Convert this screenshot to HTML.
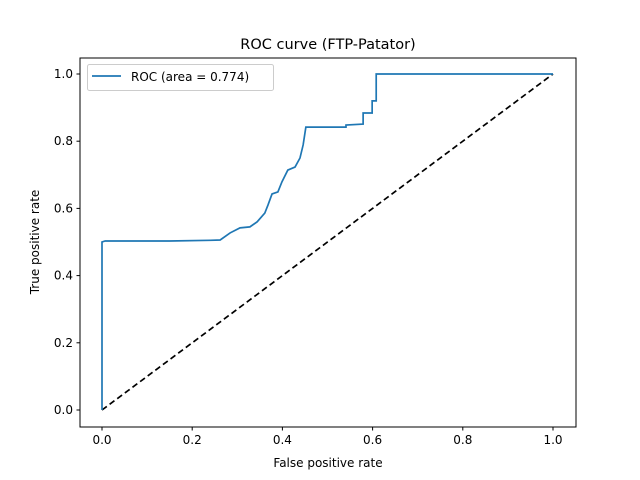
<!DOCTYPE html>
<html><head><meta charset="utf-8"><style>body{margin:0;background:#fff}svg{display:block;font-family:"DejaVu Sans","Liberation Sans",sans-serif}</style></head>
<body>
<svg id="chart" width="640" height="480" viewBox="0 0 640 480"></svg>
<script>
const xs = [0,0,0.007,0.15,0.24,0.262,0.284,0.306,0.328,0.344,0.361,0.368,0.377,0.39,0.399,0.412,0.428,0.439,0.446,0.452,0.541,0.541,0.579,0.579,0.599,0.599,0.608,0.608,1.0];
const ys = [0,0.5,0.503,0.503,0.505,0.506,0.527,0.542,0.545,0.56,0.586,0.61,0.643,0.649,0.679,0.714,0.723,0.75,0.789,0.842,0.842,0.848,0.851,0.884,0.884,0.92,0.92,1.0,1.0];
const diagX = [0,1];
const diagY = [0,1];
const ticks = [0,0.2,0.4,0.6,0.8,1.0];
const tickLabels = ["0.0","0.2","0.4","0.6","0.8","1.0"];
const NS="http://www.w3.org/2000/svg";
const svg=document.getElementById('chart');
const X=v=>102+v*451, Y=v=>410-v*336;
function mk(t,a,p){const e=document.createElementNS(NS,t);for(const k in a)e.setAttribute(k,a[k]);(p||svg).appendChild(e);return e;}
const frame=mk('rect',{x:80,y:58,width:496,height:369,fill:'none',stroke:'#000','stroke-width':1});


ticks.forEach((t,i)=>{
  const g=mk('g',{});
  
  
  mk('line',{x1:X(t),x2:X(t),y1:427,y2:430.5,stroke:'#000'},g);
  const tx=mk('text',{x:X(t),y:444,'font-size':12,'text-anchor':'middle'},g);tx.textContent=tickLabels[i];
  const g2=mk('g',{});
  
  
  mk('line',{x1:76.5,x2:80,y1:Y(t),y2:Y(t),stroke:'#000'},g2);
  const ty=mk('text',{x:73,y:Y(t)+4,'font-size':12,'text-anchor':'end'},g2);ty.textContent=tickLabels[i];
});
const diag=mk('polyline',{points:diagX.map((v,i)=>X(v)+','+Y(diagY[i])).join(' '),fill:'none',stroke:'#000','stroke-width':1.7,'stroke-dasharray':'6,3.5'});


const roc=mk('polyline',{points:xs.map((v,i)=>X(v)+','+Y(ys[i])).join(' '),fill:'none',stroke:'#1f77b4','stroke-width':1.7});


const title=mk('text',{x:328,y:49,'font-size':14.5,'text-anchor':'middle'});title.textContent='ROC curve (FTP-Patator)';


const xl=mk('text',{x:328,y:467,'font-size':12,'text-anchor':'middle'});xl.textContent='False positive rate';


const yl=mk('text',{x:0,y:0,'font-size':12,'text-anchor':'middle',transform:'translate(39,242) rotate(-90)'});yl.textContent='True positive rate';


const lg=mk('g',{});


mk('rect',{x:87.5,y:64.5,width:186,height:26,rx:2,fill:'#fff',stroke:'#ccc'},lg);
mk('line',{x1:92,x2:121,y1:76,y2:76,stroke:'#1f77b4','stroke-width':1.7},lg);
const lt=mk('text',{x:131,y:81,'font-size':12},lg);lt.textContent='ROC (area = 0.774)';
</script>
</body></html>
